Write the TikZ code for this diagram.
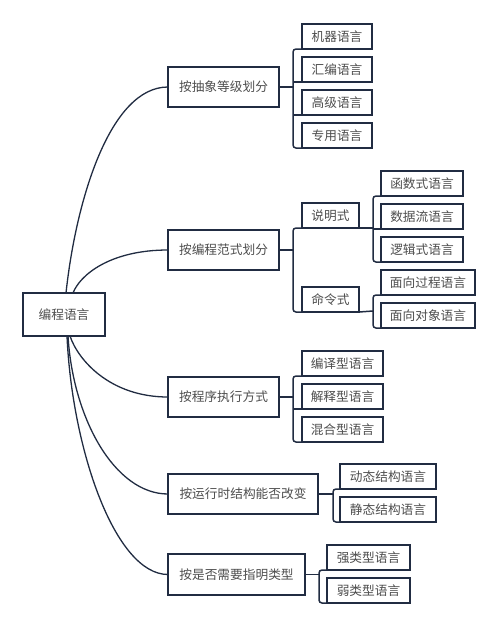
\documentclass[tikz,border=0pt]{standalone}
\usepackage{fontspec}
\setmainfont{Noto Sans CJK SC}
\definecolor{lc}{RGB}{33,44,66}
\definecolor{tc}{RGB}{78,78,78}
\begin{document}
\begin{tikzpicture}[x=1pt,y=-1pt,
  box/.style={draw=lc, line width=1.5pt, fill=white, text=tc, inner sep=0pt, outer sep=0pt,
    minimum height=25pt, font=\fontsize{12.7}{15}\selectfont},
  pbox/.style={box, minimum height=40pt},
  conn/.style={draw=lc, line width=1.5pt},
  curve/.style={draw=lc, line width=1.3pt}]
\useasboundingbox (0,0) rectangle (500,629);

% root
\node[box, minimum width=82pt, minimum height=43pt] (root) at (64,314.5) {编程语言};

% level 1
\node[pbox, minimum width=111pt] (p1) at (223.5,87) {按抽象等级划分};
\node[pbox, minimum width=111pt] (p2) at (223.5,250) {按编程范式划分};
\node[pbox, minimum width=111pt] (p3) at (223.5,397) {按程序执行方式};
\node[pbox, minimum width=150pt] (p4) at (243,494) {按运行时结构能否改变};
\node[pbox, minimum width=137pt, minimum height=41pt] (p5) at (236.5,574.5) {按是否需要指明类型};

% curves
\draw[curve] ([xshift=2pt]root.north) .. controls +(10,-93) and +(-58,0) .. (p1.west);
\draw[curve] ([xshift=9pt]root.north) .. controls +(7,-18) and +(-58,0) .. (p2.west);
\draw[curve] ([xshift=6pt]root.south) .. controls +(8,24) and +(-58,0) .. (p3.west);
\draw[curve] ([xshift=4pt]root.south) .. controls +(5,83) and +(-53,0) .. (p4.west);
\draw[curve] ([xshift=3pt]root.south) .. controls +(5,113) and +(-53,0) .. (p5.west);

% group 1
\node[box, minimum width=70pt] (c11) at (337,36.5) {机器语言};
\node[box, minimum width=70pt] (c12) at (337,69.5) {汇编语言};
\node[box, minimum width=70pt] (c13) at (337,102.5) {高级语言};
\node[box, minimum width=70pt] (c14) at (337,135.5) {专用语言};
\coordinate (b1) at (293,87);
\draw[conn] (p1.east) -- (b1);
\draw[conn, rounded corners=3pt] (c11.south west) -- (c11.south west -| b1) -- (c14.south west -| b1) -- (c14.south west);
\draw[conn] (c12.south west) -- (c12.south west -| b1);
\draw[conn] (c13.south west) -- (c13.south west -| b1);

% group 2
\node[box, minimum width=57pt] (s) at (330.5,215.5) {说明式};
\node[box, minimum width=57pt] (m) at (330.5,299.5) {命令式};
\coordinate (b2) at (293,250);
\draw[conn] (p2.east) -- (b2);
\draw[conn, rounded corners=3pt] (s.south west) -- (s.south west -| b2) -- (m.south west -| b2) -- (m.south west);

\node[box, minimum width=82pt] (s1) at (422,183.5) {函数式语言};
\node[box, minimum width=82pt] (s2) at (422,216.5) {数据流语言};
\node[box, minimum width=82pt] (s3) at (422,249.5) {逻辑式语言};
\coordinate (b21) at (373,228);
\draw[conn] (s.south east) -- (b21);
\draw[conn, rounded corners=3pt] (s1.south west) -- (s1.south west -| b21) -- (s3.south west -| b21) -- (s3.south west);
\draw[conn] (s2.south west) -- (s2.south west -| b21);

\node[box, minimum width=94pt] (m1) at (428,282.5) {面向过程语言};
\node[box, minimum width=94pt] (m2) at (428,315.5) {面向对象语言};
\coordinate (b22) at (373,311);
\draw[conn] (m.south east) -- (b22);
\draw[conn, rounded corners=3pt] (m1.south west) -- (m1.south west -| b22) -- (m2.south west -| b22) -- (m2.south west);

% group 3
\node[box, minimum width=81pt] (c31) at (342.5,363.5) {编译型语言};
\node[box, minimum width=81pt] (c32) at (342.5,396.5) {解释型语言};
\node[box, minimum width=81pt] (c33) at (342.5,429.5) {混合型语言};
\coordinate (b3) at (293,397);
\draw[conn] (p3.east) -- (b3);
\draw[conn, rounded corners=3pt] (c31.south west) -- (c31.south west -| b3) -- (c33.south west -| b3) -- (c33.south west);
\draw[conn] (c32.south west) -- (c32.south west -| b3);

% group 4
\node[box, minimum width=96pt] (c41) at (388,476.5) {动态结构语言};
\node[box, minimum width=96pt] (c42) at (388,509.5) {静态结构语言};
\coordinate (b4) at (333,494);
\draw[conn] (p4.east) -- (b4);
\draw[conn, rounded corners=3pt] (c41.south west) -- (c41.south west -| b4) -- (c42.south west -| b4) -- (c42.south west);

% group 5
\node[box, minimum width=83pt] (c51) at (368.5,557.5) {强类型语言};
\node[box, minimum width=83pt] (c52) at (368.5,590.5) {弱类型语言};
\coordinate (b5) at (319,574.5);
\draw[conn] (p5.east) -- (b5);
\draw[conn, rounded corners=3pt] (c51.south west) -- (c51.south west -| b5) -- (c52.south west -| b5) -- (c52.south west);
\end{tikzpicture}
\end{document}
